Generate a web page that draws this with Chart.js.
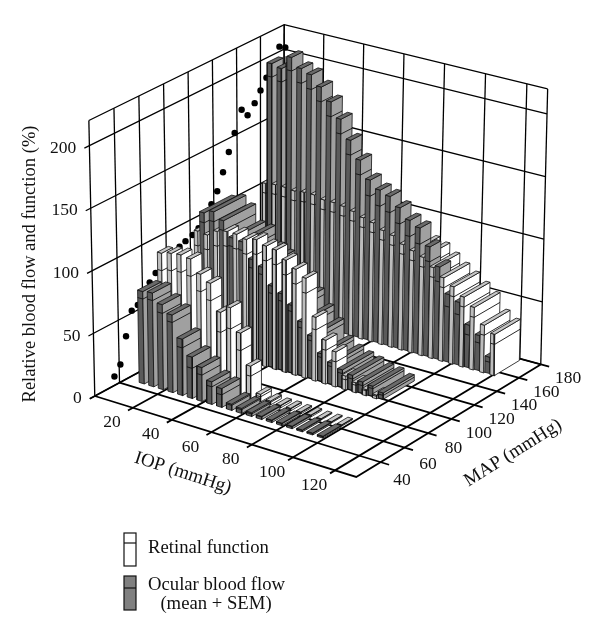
<!DOCTYPE html>
<html><head><meta charset="utf-8">
<style>html,body{margin:0;padding:0;background:#fff}canvas{display:block}</style>
<script src="https://cdn.jsdelivr.net/npm/chart.js@4/dist/chart.umd.js"></script>
</head><body><canvas id="c" width="600" height="637"></canvas>
<script>
// ---- data ----
const iopLevels = [5,10,15,20,25,30,35,40,45,50,55,60,65,70,75,80,85,90,95,100,105,110,115,120];
const flowLowTop  = [74,75,68,62,45,33,27,18,15,5,4,3,2.5,2,2,2,1.5,1.5,1.5];
const flowLowSem  = [6,6,7,6,7,9,6,4,5,1,1,1,.5,.5,.5,.5,.5,.5,.5];
const funcLowTop  = [96,98,99,98,88,83,62,68,50,26,6,3,2,2,1.5,1.5,1,1,1];
const funcLowSem  = [14,14,14,14,14,14,16,17,14,8,2,1,.5,.5,.5,.5,.3,.3,.3];
const flowMidTop  = [109,112,107,95,94,82,78,65,61,54,43,34,22,17,14,12,9,8,5];
const flowMidSem  = [8,8,8,7,7,7,6,6,6,5,5,4,3,3,3,3,3,2,2];
const funcMidTop  = [94,93,98,100,100,98,100,97,96,90,85,80,51,35,28,11,8,5,3];
const funcMidSem  = [12,12,12,12,12,12,12,12,12,12,12,12,10,8,8,3,2,1,1];
const flowHighTop = [203,201,212,205,202,194,184,172,157,143,129,123,120,113,105,101,88,74,54,50,34,28,13];
const flowHighSem = [11,11,11,12,12,12,12,12,12,12,13,13,13,13,13,13,12,12,10,10,8,6,4];
const funcHighTop = [105,106,106,105,106,106,104,104,103,101,98,96,92,90,85,82,79,73,67,62,56,50,38,33];
const funcHighSem = [8,8,8,8,8,8,8,8,8,8,8,8,8,8,8,8,8,8,8,8,8,8,8,8];
const dotMap   = [36,41,46,51,56,61,66,71,76,81,86,91,96,102,107,112,118,123,128,133,138,144,149,155,160,165,171,176,181];
const dotValue = [7,14,34,52,54,57,67,72,75,78,81,83,85,87,90,96,104,112,125,139,152,168,161,168,176,184,192,204,201];
const yTicks   = [0,50,100,150,200];
const iopTicks = [20,40,60,80,100,120];
const mapTicks = [40,60,80,100,120,140,160,180];
const IOP_MAX = 130, MAP_MIN = 20, MAP_MAX = 180, VAL_MAX = 220;

// ---- projection of the 3-D box on the page ----
function homography(p0,p1,p2,p3){
  const dx1=p1[0]-p2[0],dx2=p3[0]-p2[0],sx=p0[0]-p1[0]+p2[0]-p3[0];
  const dy1=p1[1]-p2[1],dy2=p3[1]-p2[1],sy=p0[1]-p1[1]+p2[1]-p3[1];
  const den=dx1*dy2-dx2*dy1;
  const g=(sx*dy2-dx2*sy)/den,h=(dx1*sy-sx*dy1)/den;
  const a=p1[0]-p0[0]+g*p1[0],b=p3[0]-p0[0]+h*p3[0],c=p0[0];
  const d=p1[1]-p0[1]+g*p1[1],e=p3[1]-p0[1]+h*p3[1],f=p0[1];
  return (u,v)=>{const q=g*u+h*v+1;return [(a*u+b*v+c)/q,(d*u+e*v+f)/q];};
}
const floorH = homography([92,397],[357,479],[544,365],[283,294]);
const topH   = homography([86,118],[356,188],[551,86],[284,21]);
function project(iop,map,val){
  const u=iop/IOP_MAX,v=(map-MAP_MIN)/(MAP_MAX-MAP_MIN),w=val/VAL_MAX;
  const a=floorH(u,v),b=topH(u,v);
  return {x:a[0]+(b[0]-a[0])*w,y:a[1]+(b[1]-a[1])*w};
}

// ---- datasets, listed in paint order ----
const layers=[];
function line(pts,width,color){
  layers.push({data:pts.map(p=>project(p[0],p[1],p[2])),showLine:true,fill:false,borderColor:color||'#000',borderWidth:width,pointRadius:0,tension:0});
}
function face(pts,color){
  const d=pts.map(p=>project(p[0],p[1],p[2]));d.push(d[0]);
  layers.push({data:d,showLine:true,fill:'shape',backgroundColor:color,borderColor:'#111',borderWidth:0.8,pointRadius:0,tension:0});
}
const STY={flow:{side:'#5a5a5a',face:'#a0a0a0',top:'#6a6a6a'},func:{side:'#bdbdbd',face:'#ffffff',top:'#c6c6c6'}};
function bar(i0,i1,m0,m1,top,sem,sty){
  const h=top, m=top-sem;
  face([[i0,m0,0],[i1,m0,0],[i1,m0,h],[i0,m0,h]],sty.side);
  face([[i1,m0,0],[i1,m1,0],[i1,m1,h],[i1,m0,h]],sty.face);
  face([[i0,m0,h],[i1,m0,h],[i1,m1,h],[i0,m1,h]],sty.top);
  line([[i0,m0,m],[i1,m0,m],[i1,m1,m]],0.9,'#111');
}
// walls
const LW=1.3;
for(const v of yTicks){ line([[0,16,v],[0,180,v],[IOP_MAX,180,v]],LW); }
for(const m of [20,...mapTicks]){ line([[0,m,0],[0,m,VAL_MAX]],LW); }
for(const t of [0,...iopTicks,IOP_MAX]){ line([[t,180,0],[t,180,VAL_MAX]],LW); }
line([[0,20,VAL_MAX],[0,180,VAL_MAX],[IOP_MAX,180,VAL_MAX]],LW);
// floor
for(const t of iopTicks){ line([[t,16,0],[t,180,0]],1.8); }
for(const m of mapTicks){ line([[0,m,0],[134,m,0]],1.8); }
line([[0,16,0],[0,180,0]],1.8);
line([[0,20,0],[IOP_MAX,20,0],[IOP_MAX,180,0]],1.8);
// wall scatter
layers.push({data:dotMap.map((m,i)=>project(0,m,dotValue[i])),showLine:false,pointRadius:3.2,pointBackgroundColor:'#000',pointBorderWidth:0});
// back row
iopLevels.forEach((t,i)=>{
  if(funcHighTop[i]!==undefined) bar(t-1.2,t+.8,155,178,funcHighTop[i],funcHighSem[i],STY.func);
  if(flowHighTop[i]!==undefined) bar(t+.8,t+3.2,156,165.5,flowHighTop[i],flowHighSem[i],STY.flow);
});
// middle row
iopLevels.forEach((t,i)=>{
  if(funcMidTop[i]!==undefined) bar(t-2,t,98.5,108,funcMidTop[i],funcMidSem[i],STY.func);
  if(flowMidTop[i]!==undefined) bar(t,t+2.4,100,127,flowMidTop[i],flowMidSem[i],STY.flow);
});
// front row: function behind flow
iopLevels.forEach((t,i)=>{
  if(funcLowTop[i]!==undefined) bar(t+1.5,t+3.7,62.5,71.5,funcLowTop[i],funcLowSem[i],STY.func);
});
iopLevels.forEach((t,i)=>{
  if(flowLowTop[i]!==undefined) bar(t+1.5,t+4.2,46,61,flowLowTop[i],flowLowSem[i],STY.flow);
});

// ---- text + legend ----
const SERIF='"Liberation Serif","DejaVu Serif",serif';
const textPlugin={id:'texts',afterDraw(chart){
  const ctx=chart.ctx,sx=chart.scales.x,sy=chart.scales.y;
  const at=p=>({x:sx.getPixelForValue(p.x),y:sy.getPixelForValue(p.y)});
  ctx.save();ctx.fillStyle='#111';ctx.textBaseline='middle';
  ctx.font='17.5px '+SERIF;
  ctx.textAlign='right';
  for(const v of yTicks){const p=at(project(0,16,v));ctx.fillText(String(v),p.x-8,p.y);}
  ctx.textAlign='center';
  for(const t of iopTicks){const p=at(project(t,16,0));ctx.fillText(String(t),p.x-16,p.y+12);}
  for(const m of mapTicks){
    const p=at(project(134,m,0)),low=Math.max(0,100-m);
    ctx.fillText(String(m),p.x+19-low*.1,p.y+12+low*.06);
  }
  const rot=(s,x,y,deg)=>{ctx.save();ctx.translate(x,y);ctx.rotate(deg*Math.PI/180);ctx.fillText(s,0,0);ctx.restore();};
  ctx.font='18.5px '+SERIF;
  rot('Relative blood flow and function (%)',30,264,-90);
  ctx.font='19px '+SERIF;
  rot('IOP (mmHg)',183,473,18);
  rot('MAP (mmHg)',513,453,-32);
  // legend
  ctx.font='18.7px '+SERIF;
  ctx.textAlign='left';
  ctx.fillText('Retinal function',148,548);
  ctx.fillText('Ocular blood flow',148,585);
  ctx.textAlign='center';
  ctx.fillText('(mean + SEM)',216,604);
  ctx.lineWidth=1.2;ctx.strokeStyle='#111';
  const sw=(y0,y1,ym,c)=>{ctx.fillStyle=c;ctx.fillRect(124,y0,12,y1-y0);ctx.strokeRect(124,y0,12,y1-y0);ctx.beginPath();ctx.moveTo(124,ym);ctx.lineTo(136,ym);ctx.stroke();};
  sw(533,566,543,'#fff');
  sw(576,610,588,'#808080');
  ctx.restore();
}};

new Chart(document.getElementById('c'),{
  type:'scatter',
  data:{datasets:layers.slice().reverse()},
  options:{responsive:false,animation:false,events:[],
    layout:{padding:0},
    plugins:{legend:{display:false},tooltip:{enabled:false},filler:{propagate:false}},
    scales:{x:{type:'linear',min:0,max:600,display:false},y:{type:'linear',min:0,max:637,reverse:true,display:false}}
  },
  plugins:[textPlugin]
});
</script></body></html>
